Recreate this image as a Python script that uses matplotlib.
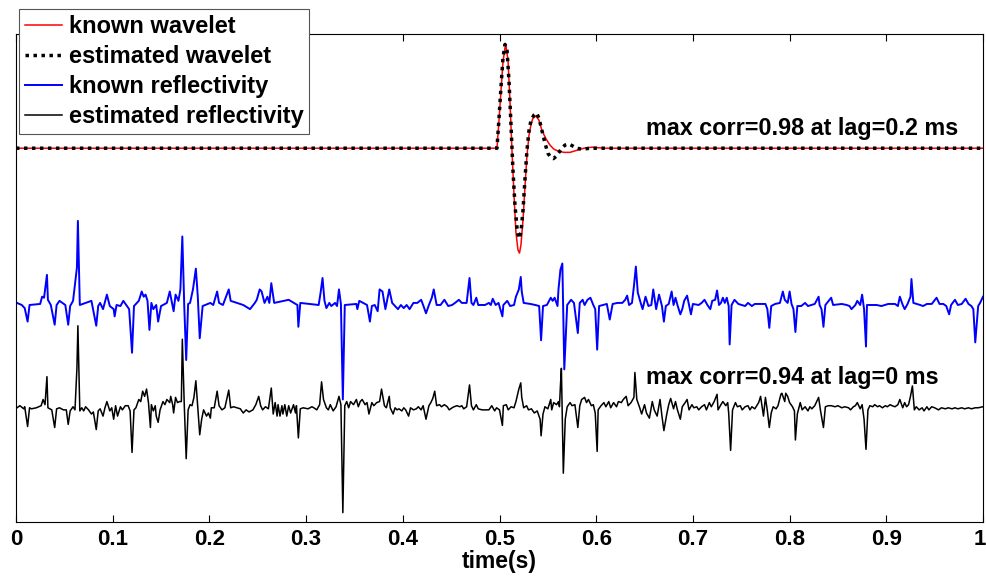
import numpy as np
import matplotlib
matplotlib.use('Agg')
import matplotlib.pyplot as plt
from matplotlib.transforms import ScaledTranslation

# wavelets: time (s) and normalised amplitude
known_wavelet_t = [0.0, 0.4974, 0.4995, 0.5016, 0.5036, 0.5057, 0.5067, 0.5088,
                   0.5108, 0.5129, 0.5150, 0.5170, 0.5191, 0.5207, 0.5222, 0.5243,
                   0.5264, 0.5284, 0.5305, 0.5326, 0.5346, 0.5377, 0.5408, 0.5439,
                   0.5481, 0.5522, 0.5563, 0.5615, 0.5667, 0.5729, 0.5801, 0.5874,
                   0.5957, 0.6019, 0.6091, 0.6164, 1.0]
known_wavelet_amp = [0.0, 0.0, 0.27, 0.56, 0.83, 0.97, 0.98, 0.85,
                     0.46, -0.02, -0.45, -0.81, -0.98, -1.01, -0.93, -0.69,
                     -0.36, -0.07, 0.125, 0.23, 0.29, 0.31, 0.27, 0.17,
                     0.09, 0.03, -0.01, -0.03, -0.04, -0.04, -0.02, 0.0,
                     0.01, 0.005, 0.0, 0.0, 0.0]

est_wavelet_t = [0.0, 0.4974, 0.4995, 0.5016, 0.5036, 0.5057, 0.5078, 0.5098,
                 0.5119, 0.5139, 0.5160, 0.5181, 0.5201, 0.5222, 0.5243, 0.5264,
                 0.5284, 0.5305, 0.5326, 0.5357, 0.5383, 0.5408, 0.5439, 0.5470,
                 0.5501, 0.5532, 0.5558, 0.5584, 0.5615, 0.5646, 0.5677, 0.5719,
                 0.5760, 0.5801, 0.5853, 0.5936, 1.0]
est_wavelet_amp = [0.0, 0.0, 0.29, 0.60, 0.87, 1.00, 0.94, 0.65,
                   0.22, -0.21, -0.55, -0.77, -0.87, -0.81, -0.60, -0.29,
                   -0.02, 0.17, 0.27, 0.32, 0.34, 0.29, 0.17, 0.05,
                   -0.05, -0.09, -0.10, -0.08, -0.04, 0.0, 0.03, 0.04,
                   0.02, 0.0, -0.01, 0.0, 0.0]

# reflectivity: (time in ms, amplitude)
known_refl = [
    (0, 0.0), (1, 0.01), (6, -0.01), (9, -0.04), (12, -0.17), (14, -0.01), (25, 0.0),
    (27, 0.07), (29, 0.06), (32, 0.28), (33, 0.04), (36, -0.01), (40, -0.20), (42, -0.01),
    (45, 0.03), (51, -0.01), (54, -0.20), (56, -0.02), (59, 0.03), (63, 0.35), (64, 0.80),
    (66, -0.01), (75, 0.02), (78, 0.03), (83, -0.21), (85, -0.02), (87, 0.01), (90, -0.05),
    (94, 0.09), (97, -0.02), (101, -0.05), (102, -0.12), (104, -0.01), (108, -0.02),
    (111, 0.03), (114, -0.01), (117, -0.05), (120, -0.47), (122, -0.02), (127, 0.03),
    (130, 0.12), (132, 0.07), (134, 0.09), (136, 0.03), (138, -0.25), (140, 0.01),
    (142, -0.05), (145, -0.01), (147, -0.17), (150, -0.02), (156, 0.01), (159, 0.12),
    (162, -0.02), (163, -0.07), (165, 0.09), (168, 0.03), (170, 0.14), (172, 0.65),
    (174, -0.02), (176, -0.54), (178, 0.0), (180, 0.01), (183, 0.14), (186, 0.34),
    (188, 0.07), (190, -0.33), (193, -0.02), (201, 0.01), (204, -0.01), (208, 0.12),
    (210, 0.01), (214, -0.01), (220, 0.14), (222, 0.03), (235, -0.01), (242, -0.05),
    (247, 0.01), (249, 0.04), (252, 0.14), (254, 0.12), (257, 0.01), (260, 0.07),
    (262, 0.01), (264, 0.20), (267, 0.01), (282, 0.04), (291, -0.01), (292, -0.22),
    (294, 0.01), (313, -0.01), (315, 0.11), (317, 0.25), (319, 0.03), (321, -0.04),
    (324, 0.01), (326, -0.02), (330, 0.01), (332, -0.02), (334, 0.14), (336, 0.0),
    (338, -0.92), (340, -0.01), (352, 0.0), (353, -0.05), (355, 0.03), (363, -0.01),
    (366, -0.17), (368, -0.02), (371, -0.01), (374, -0.07), (376, 0.14), (379, 0.12),
    (382, -0.05), (386, 0.14), (389, 0.01), (392, -0.02), (395, -0.05), (398, -0.01),
    (401, -0.04), (404, -0.01), (407, -0.05), (411, 0.01), (415, 0.01), (419, 0.04),
    (421, -0.01), (424, -0.09), (427, -0.01), (430, 0.06), (432, 0.14), (435, -0.01),
    (439, -0.01), (443, 0.04), (447, -0.02), (451, -0.01), (454, 0.01), (458, 0.04),
    (461, 0.01), (466, 0.01), (469, 0.25), (471, 0.01), (473, -0.01), (476, 0.06),
    (478, -0.01), (485, -0.01), (489, 0.01), (491, -0.01), (493, 0.05), (496, -0.01),
    (499, 0.01), (503, -0.12), (504, -0.01), (508, 0.03), (511, -0.02), (515, -0.01),
    (517, 0.07), (520, 0.14), (522, 0.26), (523, 0.12), (525, 0.01), (532, 0.0),
    (537, -0.01), (541, -0.02), (543, -0.35), (545, -0.02), (549, -0.01), (553, 0.06),
    (555, 0.03), (557, 0.06), (560, -0.02), (561, 0.14), (563, 0.33), (565, 0.39),
    (567, -0.63), (570, -0.01), (574, 0.04), (577, 0.01), (581, -0.28), (583, 0.01),
    (586, 0.04), (588, -0.01), (591, 0.04), (594, 0.06), (597, -0.01), (599, -0.05),
    (601, -0.44), (603, -0.02), (611, 0.0), (614, -0.15), (617, 0.0), (622, 0.01),
    (627, 0.01), (630, 0.04), (632, 0.08), (634, -0.01), (637, 0.01), (639, 0.17),
    (641, 0.36), (643, 0.11), (646, 0.01), (648, -0.05), (651, 0.07), (654, -0.02),
    (657, -0.01), (659, 0.14), (662, -0.05), (665, 0.09), (668, -0.02), (670, -0.17),
    (672, -0.02), (675, 0.0), (678, 0.12), (680, -0.01), (682, 0.06), (684, -0.01),
    (687, -0.10), (689, -0.05), (691, 0.03), (694, 0.08), (696, -0.01), (698, -0.10),
    (700, 0.0), (706, -0.01), (709, 0.01), (712, 0.04), (715, -0.01), (718, -0.05),
    (720, 0.03), (723, 0.04), (725, 0.13), (727, -0.01), (729, 0.01), (731, 0.06),
    (733, 0.01), (735, 0.06), (737, -0.02), (738, -0.39), (740, -0.01), (743, 0.04),
    (747, 0.0), (754, -0.02), (757, 0.01), (761, -0.02), (764, 0.0), (775, 0.0),
    (777, -0.05), (779, -0.23), (781, -0.02), (785, 0.0), (790, 0.01), (793, 0.12),
    (795, 0.04), (798, 0.01), (800, 0.12), (802, 0.0), (804, -0.05), (806, -0.27),
    (808, -0.02), (812, -0.02), (816, 0.01), (819, -0.02), (826, 0.0), (830, 0.07),
    (831, -0.01), (833, -0.05), (835, -0.22), (837, -0.01), (843, 0.06), (845, -0.01),
    (854, 0.0), (859, -0.01), (862, -0.02), (864, -0.05), (868, -0.01), (870, 0.03),
    (873, -0.01), (875, 0.09), (877, -0.05), (879, -0.41), (880, -0.01), (890, -0.01),
    (895, -0.02), (902, 0.0), (909, 0.0), (912, -0.02), (914, 0.07), (917, -0.01),
    (919, -0.05), (922, 0.0), (925, 0.07), (926, 0.24), (928, 0.01), (935, -0.01),
    (938, -0.02), (942, 0.0), (947, 0.0), (952, 0.06), (955, 0.0), (959, 0.0),
    (962, -0.02), (965, -0.10), (967, -0.01), (971, 0.04), (974, -0.01), (978, 0.0),
    (982, 0.05), (985, 0.0), (988, -0.02), (990, -0.05), (992, -0.37), (995, -0.02),
    (997, 0.01), (1000, 0.07),
]

est_refl = [
    (0, 0.0), (1, 0.0), (4, 0.02), (8, -0.01), (9, 0.01), (12, -0.18), (14, 0.0),
    (16, -0.01), (21, 0.0), (26, 0.02), (28, 0.08), (30, 0.03), (32, 0.30), (33, 0.0),
    (37, -0.02), (40, -0.19), (42, -0.01), (45, 0.0), (49, -0.02), (52, -0.02), (54, -0.16),
    (56, -0.03), (59, 0.01), (61, -0.02), (63, 0.38), (64, 0.79), (66, -0.03), (68, 0.0),
    (70, -0.03), (72, 0.01), (75, -0.02), (78, -0.06), (80, -0.04), (83, -0.21), (85, -0.03),
    (87, -0.01), (90, -0.08), (92, 0.0), (94, 0.06), (97, -0.03), (99, 0.0), (101, -0.11),
    (103, 0.02), (105, -0.08), (108, 0.01), (110, -0.02), (113, 0.02), (116, 0.02),
    (118, -0.03), (120, -0.43), (122, -0.02), (124, 0.0), (127, 0.08), (129, 0.06),
    (131, 0.16), (133, 0.11), (135, 0.18), (137, 0.05), (139, -0.19), (140, 0.03),
    (142, -0.03), (144, 0.02), (145, -0.08), (147, -0.14), (149, -0.02), (152, 0.06),
    (154, 0.03), (156, 0.08), (159, 0.05), (160, 0.11), (162, 0.03), (163, -0.05),
    (165, 0.10), (167, 0.05), (169, 0.06), (171, 0.06), (172, 0.66), (174, 0.03),
    (176, -0.49), (178, -0.02), (180, 0.03), (182, 0.02), (184, 0.10), (186, 0.26),
    (188, 0.0), (190, -0.26), (192, -0.11), (194, -0.02), (197, -0.08), (199, -0.05),
    (201, -0.10), (202, 0.0), (205, 0.0), (208, 0.16), (210, 0.02), (213, -0.02),
    (216, 0.0), (220, 0.17), (222, 0.0), (225, 0.01), (232, -0.01), (235, -0.05),
    (238, -0.02), (241, -0.04), (245, -0.02), (248, 0.03), (251, 0.11), (253, 0.02),
    (255, -0.02), (258, 0.01), (261, -0.01), (264, 0.19), (266, -0.06), (268, 0.05),
    (270, -0.08), (271, 0.03), (273, -0.08), (275, 0.02), (276, -0.06), (278, 0.03),
    (280, -0.08), (282, 0.02), (284, -0.05), (287, 0.03), (289, -0.05), (290, 0.02),
    (292, -0.29), (294, -0.01), (297, 0.0), (302, -0.01), (306, 0.01), (308, 0.0),
    (311, -0.02), (314, 0.03), (316, 0.25), (318, 0.08), (321, 0.0), (323, -0.02),
    (325, 0.03), (328, -0.03), (331, 0.01), (334, 0.11), (336, 0.03), (338, -1.01),
    (340, 0.02), (342, 0.06), (344, 0.0), (346, 0.06), (349, 0.03), (352, 0.08),
    (354, 0.01), (356, 0.06), (358, 0.08), (361, 0.03), (363, 0.05), (365, -0.06),
    (368, 0.05), (370, 0.02), (373, 0.05), (376, 0.06), (378, 0.18), (381, 0.02),
    (383, 0.0), (386, 0.11), (387, 0.0), (390, -0.06), (392, 0.0), (394, -0.02),
    (396, -0.01), (399, -0.03), (401, 0.0), (403, -0.02), (406, -0.08), (408, 0.0),
    (411, -0.02), (414, -0.01), (416, 0.01), (419, -0.02), (421, 0.02), (424, -0.11),
    (427, 0.02), (429, 0.05), (431, 0.09), (433, 0.16), (435, 0.02), (438, 0.03),
    (440, 0.01), (443, 0.03), (446, 0.01), (448, -0.02), (451, 0.0), (453, 0.01),
    (456, 0.02), (459, 0.01), (461, 0.02), (463, -0.01), (466, 0.01), (469, 0.22),
    (471, 0.02), (473, -0.02), (476, 0.03), (478, -0.01), (482, -0.02), (485, -0.02),
    (489, -0.02), (492, 0.02), (495, -0.03), (497, 0.0), (500, -0.02), (503, -0.17),
    (504, 0.02), (507, 0.03), (509, -0.02), (512, 0.01), (515, 0.0), (517, 0.06),
    (520, 0.18), (522, 0.24), (523, 0.10), (525, 0.0), (528, 0.02), (530, -0.02),
    (533, -0.01), (536, -0.05), (539, -0.03), (542, -0.11), (543, -0.27), (545, -0.06),
    (547, 0.01), (550, -0.01), (553, 0.08), (554, -0.02), (556, 0.05), (559, 0.03),
    (561, 0.06), (562, 0.01), (563, 0.21), (564, 0.38), (566, -0.63), (568, -0.11),
    (570, 0.01), (573, 0.05), (575, 0.02), (578, 0.03), (581, -0.19), (583, 0.02),
    (585, 0.08), (588, 0.10), (590, 0.05), (592, 0.08), (595, 0.02), (597, 0.03),
    (599, -0.05), (601, -0.42), (602, -0.02), (605, 0.02), (608, 0.05), (610, 0.01),
    (613, 0.06), (615, 0.0), (618, 0.05), (621, 0.01), (623, 0.06), (626, 0.05),
    (628, 0.08), (631, 0.11), (633, 0.02), (636, 0.05), (639, 0.10), (640, 0.34),
    (642, 0.08), (645, 0.0), (647, -0.06), (650, 0.03), (652, -0.05), (655, -0.10),
    (658, 0.06), (660, -0.02), (663, -0.08), (666, 0.08), (668, -0.08), (670, -0.22),
    (673, -0.06), (675, 0.03), (677, 0.09), (680, -0.01), (682, 0.06), (684, -0.02),
    (687, -0.11), (689, 0.01), (692, 0.05), (694, 0.08), (696, -0.02), (699, 0.03),
    (701, 0.0), (704, 0.01), (706, -0.02), (709, 0.01), (712, 0.03), (714, -0.02),
    (717, 0.05), (719, 0.01), (722, 0.06), (725, 0.13), (726, -0.02), (729, 0.03),
    (731, 0.06), (734, 0.02), (736, 0.05), (737, -0.05), (739, -0.41), (741, -0.02),
    (744, 0.05), (746, 0.01), (749, 0.02), (751, -0.02), (754, 0.01), (757, 0.02),
    (759, -0.02), (761, 0.01), (764, -0.01), (768, 0.05), (770, 0.11), (773, -0.08),
    (775, 0.10), (777, -0.03), (779, -0.19), (781, -0.05), (783, 0.01), (786, -0.01),
    (788, 0.02), (791, 0.13), (792, 0.14), (795, 0.06), (796, 0.14), (798, 0.11),
    (800, 0.05), (803, 0.01), (805, -0.03), (806, -0.31), (808, -0.06), (811, 0.05),
    (813, -0.02), (816, 0.01), (819, -0.03), (821, 0.01), (823, -0.01), (826, 0.02),
    (829, 0.08), (830, 0.10), (832, -0.03), (835, -0.19), (837, 0.01), (840, 0.02),
    (843, 0.02), (847, 0.01), (850, 0.02), (854, 0.0), (857, 0.01), (861, 0.0),
    (863, -0.02), (866, 0.01), (868, 0.02), (870, 0.05), (873, -0.01), (875, 0.03),
    (877, -0.11), (879, -0.40), (881, -0.02), (883, 0.02), (886, 0.01), (888, 0.03),
    (891, 0.01), (893, 0.02), (896, 0.0), (899, 0.02), (901, 0.01), (904, 0.03),
    (906, 0.02), (909, 0.01), (912, 0.03), (914, 0.08), (917, 0.0), (919, 0.05),
    (921, 0.01), (923, 0.03), (925, 0.11), (927, 0.21), (929, -0.02), (931, 0.01),
    (934, -0.02), (937, 0.0), (939, -0.03), (942, 0.01), (944, -0.02), (947, 0.01),
    (950, 0.0), (954, -0.02), (957, 0.0), (961, -0.01), (964, 0.0), (968, -0.01),
    (971, 0.0), (974, -0.01), (978, 0.0), (981, -0.01), (985, 0.0), (988, -0.01),
    (992, 0.0), (995, 0.0), (1000, 0.01),
]

series_labels = ['known wavelet', 'estimated wavelet', 'known reflectivity',
                 'estimated reflectivity']
corr_notes = ['max corr=0.98 at lag=0.2 ms', 'max corr=0.94 at lag=0 ms']
xticks = [0, 0.1, 0.2, 0.3, 0.4, 0.5, 0.6, 0.7, 0.8, 0.9, 1]
xtick_labels = ['0', '0.1', '0.2', '0.3', '0.4', '0.5', '0.6', '0.7', '0.8', '0.9', '1']

# vertical offsets of the three traces
wavelet_offset = 0.0
known_refl_offset = -1.5
est_refl_offset = -2.5

kr = np.array(known_refl)
er = np.array(est_refl)

bold_font = ['Liberation Sans', 'DejaVu Sans']

fig = plt.figure(figsize=(9.87, 5.79), dpi=100)
ax = fig.add_axes([16 / 987, 1 - 522 / 579, 967 / 987, 488 / 579])

l1, = ax.plot(known_wavelet_t, np.array(known_wavelet_amp) + wavelet_offset,
              color='red', lw=1.1, label=series_labels[0])
l2, = ax.plot(est_wavelet_t, np.array(est_wavelet_amp) + wavelet_offset,
              color='black', lw=2.5, linestyle=(0, (1, 1.3)),
              label=series_labels[1])
l3, = ax.plot(kr[:, 0] / 1000, kr[:, 1] + known_refl_offset,
              color='blue', lw=1.4, label=series_labels[2])
l4, = ax.plot(er[:, 0] / 1000, er[:, 1] + est_refl_offset,
              color='black', lw=1.1, label=series_labels[3])

ax.text(0.651, 0.19, corr_notes[0], fontsize=16.8, fontweight='bold',
        family=bold_font, va='center', ha='left')
ax.text(0.651, -2.21, corr_notes[1], fontsize=16.8, fontweight='bold',
        family=bold_font, va='center', ha='left')

ax.set_xlim(0, 1)
ax.set_ylim(-3.6, 1.1)
ax.set_yticks([])
ax.set_xticks(xticks)
ax.set_xticklabels(xtick_labels, fontsize=16, fontweight='bold', family=bold_font)
ax.tick_params(axis='x', direction='in', length=5, width=0.8, top=True, pad=5)
# keep the last label inside the canvas
last = ax.get_xticklabels()[-1]
last.set_transform(last.get_transform() +
                   ScaledTranslation(-3 / 100, 0, fig.dpi_scale_trans))
ax.set_xlabel('time(s)', fontsize=16.5, fontweight='bold', family=bold_font,
              labelpad=0)
for s in ax.spines.values():
    s.set_linewidth(0.8)

leg = fig.legend(handles=[l1, l2, l3, l4], loc='upper left',
                 bbox_to_anchor=(19 / 987, 1 - 9 / 579), borderaxespad=0,
                 prop={'family': bold_font, 'weight': 'bold', 'size': 17},
                 fancybox=False, framealpha=1, edgecolor='#555555',
                 handlelength=1.55, handletextpad=0.3, labelspacing=0.3,
                 borderpad=0.25)
leg.get_frame().set_linewidth(0.8)

fig.savefig('out.png', dpi=100)
